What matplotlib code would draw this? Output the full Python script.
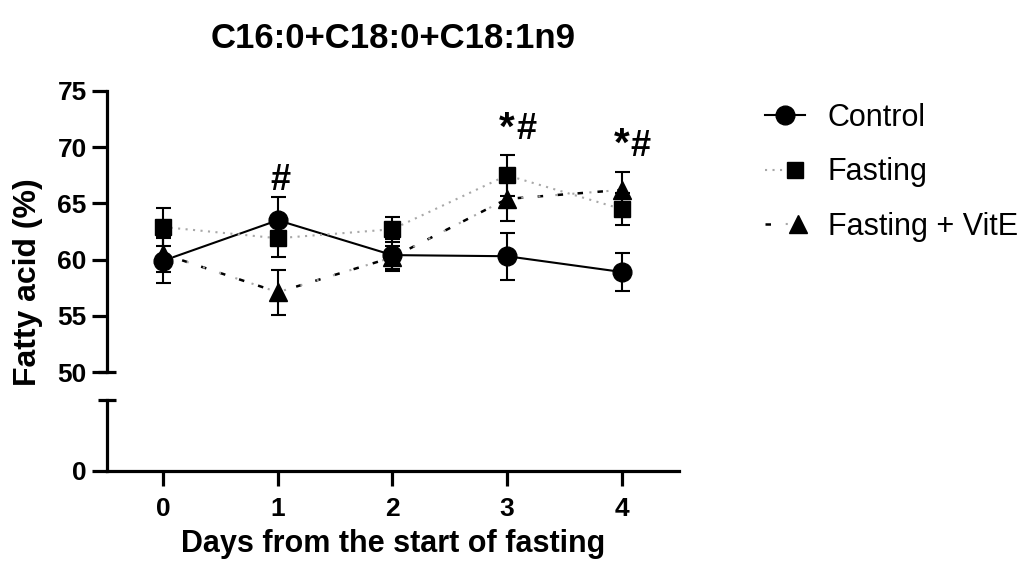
import matplotlib
matplotlib.use("Agg")
import matplotlib.pyplot as plt
from matplotlib.lines import Line2D
from matplotlib.legend_handler import HandlerTuple

plt.rcParams['font.family'] = ['Liberation Sans', 'DejaVu Sans']

days = [0, 1, 2, 3, 4]
day_labels = ["0", "1", "2", "3", "4"]

control_mean = [59.9, 63.5, 60.4, 60.3, 58.9]
control_sem = [2.0, 2.1, 1.4, 2.1, 1.65]
fasting_mean = [62.9, 61.9, 62.7, 67.5, 64.5]
fasting_sem = [1.7, 1.7, 1.1, 1.8, 1.4]
vite_mean = [60.5, 57.1, 60.2, 65.4, 66.2]
vite_sem = [1.6, 2.0, 1.0, 2.0, 1.6]

series_names = ["Control", "Fasting", "Fasting + VitE"]

# significance marks: (day, star shown, baseline value)
sig_marks = [(1, False, 66.2), (3, True, 70.7), (4, True, 69.2)]

W, H = 1027, 567
fig = plt.figure(figsize=(W / 100, H / 100), dpi=100)

def fx(px):
    return px / W

def fy(py):
    return 1 - py / H

left, right = 107, 679
ax = fig.add_axes([fx(left), fy(372), fx(right - left), fy(91) - fy(372)])
axb = fig.add_axes([fx(left), fy(471), fx(right - left), fy(400) - fy(471)])

SPW = 2.3
for a in (ax, axb):
    a.set_xlim(-0.49, 4.5)
    for s in ("top", "right"):
        a.spines[s].set_visible(False)
    a.spines["left"].set_linewidth(SPW)
    a.spines["bottom"].set_linewidth(SPW)
    a.tick_params(width=SPW, length=11, labelsize=19, pad=3.5)

ax.spines["bottom"].set_visible(False)
ax.set_ylim(50, 75)
ax.set_yticks([50, 55, 60, 65, 70, 75])
ax.set_yticklabels(["50", "55", "60", "65", "70", "75"], fontweight="bold")
ax.set_xticks([])

axb.set_ylim(0, 10)
axb.set_yticks([0])
axb.set_yticklabels(["0"], fontweight="bold")
axb.set_xticks(days)
axb.set_xticklabels(day_labels, fontweight="bold")
axb.tick_params(axis="x", pad=8)

# break caps on the segmented y axis
ax.plot([0], [50], marker="_", markersize=13, markeredgewidth=SPW, color="black",
        transform=ax.get_yaxis_transform(), clip_on=False)
axb.plot([0], [10], marker="_", markersize=13, markeredgewidth=SPW, color="black",
         transform=axb.get_yaxis_transform(), clip_on=False)

ELW = 1.5
CAP = 5.4

# Control
ax.errorbar(days, control_mean, yerr=control_sem, fmt="none", ecolor="black",
            elinewidth=ELW, capsize=CAP, capthick=ELW, zorder=3)
ax.plot(days, control_mean, color="black", lw=1.5, zorder=2)
ax.plot(days, control_mean, "o", color="black", markersize=13.5, zorder=5)

# Fasting
ax.errorbar(days, fasting_mean, yerr=fasting_sem, fmt="none", ecolor="black",
            elinewidth=ELW, capsize=CAP, capthick=ELW, zorder=3)
ax.plot(days, fasting_mean, color="#a8a8a8", lw=1.5, linestyle=(0, (1, 2.6)), zorder=2)
ax.plot(days, fasting_mean, "s", color="black", markersize=12, zorder=5)

# Fasting + VitE
ax.errorbar(days, vite_mean, yerr=vite_sem, fmt="none", ecolor="black",
            elinewidth=ELW, capsize=CAP, capthick=ELW, zorder=3)
ax.plot(days, vite_mean, color="black", lw=1.8, linestyle=(0, (2.2, 5.8)), zorder=2)
ax.plot(days, vite_mean, color="#a8a8a8", lw=1.5, linestyle=(4.5, (1, 7.2)), zorder=2)
ax.plot(days, vite_mean, "^", color="black", markersize=12.5, zorder=5)

for d, star, yb in sig_marks:
    if star:
        ax.annotate("*", (d, yb), xytext=(5.5, 0), textcoords="offset points",
                    ha="right", va="baseline", fontsize=29, fontweight="bold")
        ax.annotate("#", (d, yb), xytext=(6.5, 0), textcoords="offset points",
                    ha="left", va="baseline", fontsize=26, fontweight="bold")
    else:
        ax.annotate("#", (d, yb), xytext=(2, 0), textcoords="offset points",
                    ha="center", va="baseline", fontsize=26, fontweight="bold")

fig.text(fx(393), fy(39), "C16:0+C18:0+C18:1n9", ha="center", va="center",
         fontsize=25, fontweight="bold")
fig.text(fx(393), fy(544), "Days from the start of fasting", ha="center",
         va="center", fontsize=22, fontweight="bold")
fig.text(fx(28), fy(282), "Fatty acid (%)", ha="center", va="center",
         rotation=90, fontsize=23, fontweight="bold")

# legend
h_ctrl = Line2D([], [], color="black", lw=1.5, marker="o", markersize=13.5)
h_fast = (Line2D([], [], color="#a8a8a8", lw=1.5, linestyle=(0, (1, 2.6))),
          Line2D([], [], color="black", marker="s", markersize=12, linestyle="none"))
h_vite = (Line2D([], [], color="black", lw=1.8, linestyle=(0, (2.2, 5.8))),
          Line2D([], [], color="#a8a8a8", lw=1.5, linestyle=(4.5, (1, 7.2))),
          Line2D([], [], color="black", marker="^", markersize=12.5, linestyle="none"))
fig.legend([h_ctrl, h_fast, h_vite], series_names,
           handler_map={tuple: HandlerTuple(ndivide=None)},
           loc="upper left", bbox_to_anchor=(fx(765), fy(103)),
           frameon=False, fontsize=22, handlelength=1.3, handletextpad=0.75,
           labelspacing=0.8, borderpad=0, borderaxespad=0)

fig.savefig("out.png", dpi=100)
